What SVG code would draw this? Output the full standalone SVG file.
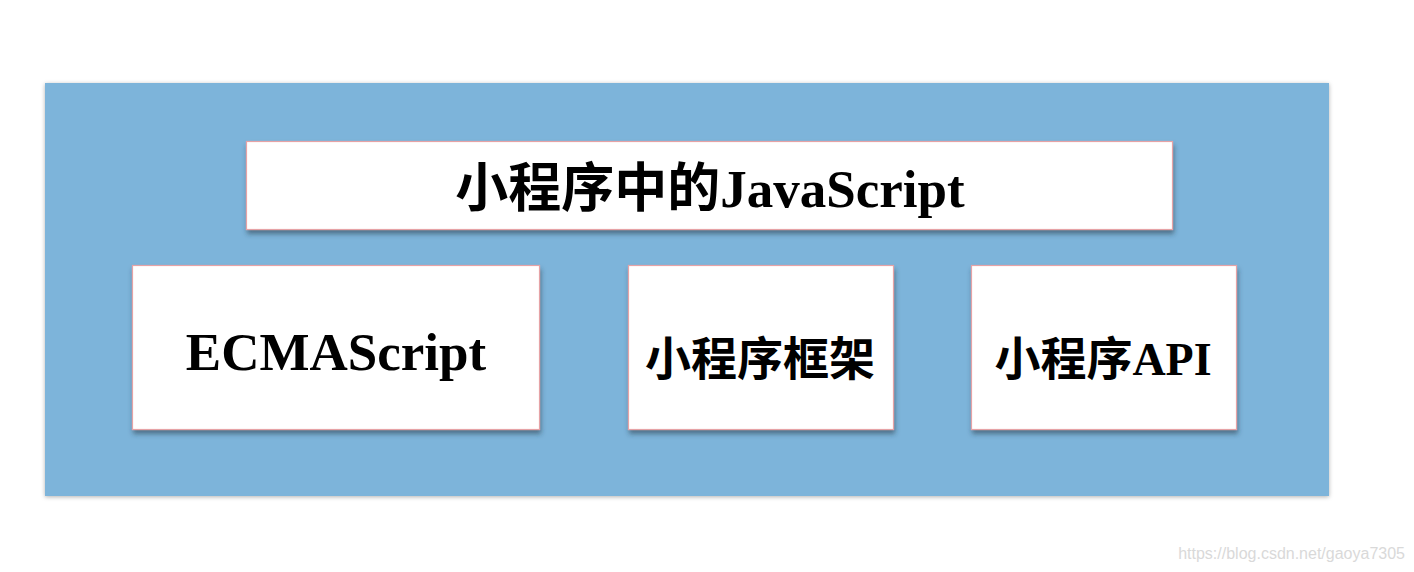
<svg xmlns="http://www.w3.org/2000/svg" width="1414" height="572" viewBox="0 0 1414 572">
<style>
.box{fill:#ffffff;stroke:#e6a3a6;stroke-width:1.2;filter:url(#sh)}
.lbl{font-family:"Liberation Serif","Noto Sans CJK SC",serif;font-weight:bold;fill:#000;text-anchor:middle}
.wm{font-family:"Liberation Sans",Arial,sans-serif;font-size:16px;fill:#d9d9d9;text-anchor:end}
</style>
<defs>
<filter id="sh" x="-10%" y="-10%" width="120%" height="130%">
<feDropShadow dx="1" dy="4" stdDeviation="2.5" flood-color="#2a3a4a" flood-opacity="0.55"/>
</filter>
<filter id="sh2" x="-5%" y="-5%" width="110%" height="110%">
<feDropShadow dx="0" dy="1" stdDeviation="2" flood-color="#000" flood-opacity="0.3"/>
</filter>
</defs>
<g id="container">
<rect x="45" y="83" width="1284" height="413" fill="#7db4da" filter="url(#sh2)"/>
</g>
<g id="node-title">
<rect class="box" x="246.500" y="141.500" width="926" height="88"/>
<text class="lbl" x="710" y="207" font-size="53">小程序中的JavaScript</text>
</g>
<g id="node-ecmascript">
<rect class="box" x="132.500" y="265.500" width="407" height="164"/>
<text class="lbl" x="336" y="370" font-size="53">ECMAScript</text>
</g>
<g id="node-framework">
<rect class="box" x="628.500" y="265.500" width="265" height="164"/>
<text class="lbl" x="760" y="375" font-size="46">小程序框架</text>
</g>
<g id="node-api">
<rect class="box" x="971.500" y="265.500" width="265" height="164"/>
<text class="lbl" x="1103" y="375" font-size="46">小程序API</text>
</g>
<g id="connectors"></g>
<text class="wm" x="1405" y="559">https://blog.csdn.net/gaoya7305</text>
</svg>
